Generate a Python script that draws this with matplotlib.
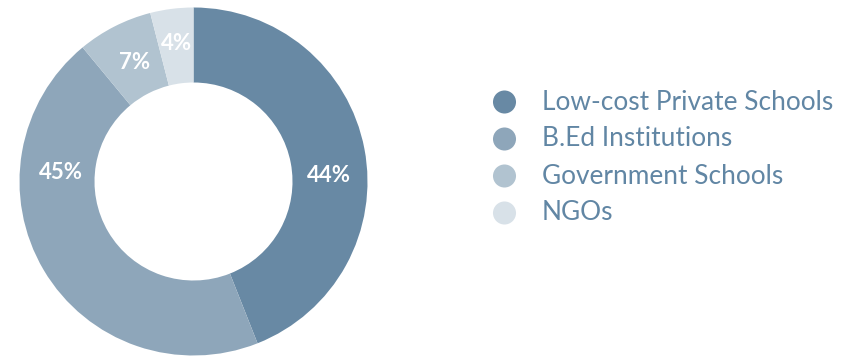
import matplotlib
matplotlib.use("Agg")
import matplotlib.pyplot as plt
import numpy as np

categories = ["Low-cost Private Schools", "B.Ed Institutions", "Government Schools", "NGOs"]
shares = [44, 45, 7, 4]
colors = ["#6889a4", "#8ea6ba", "#b1c3d0", "#d8e1e8"]

# label placement: (angle clockwise from top in degrees, radius as fraction of outer)
label_pos = [(87.3, 0.78), (274.1, 0.763), (333.7, 0.76), (353.0, 0.80)]

plt.rcParams["font.family"] = ["Lato", "DejaVu Sans"]

W, H = 858, 363
fig = plt.figure(figsize=(W / 100, H / 100), dpi=100)

cx, cy, R = 193.5, 181.5, 174.0
ax = fig.add_axes([(cx - R) / W, (H - cy - R) / H, 2 * R / W, 2 * R / H])
ax.pie(shares, colors=colors, startangle=90, counterclock=False, radius=1.0,
       wedgeprops=dict(width=1 - 99 / 174, linewidth=0))
ax.set_xlim(-1, 1)
ax.set_ylim(-1, 1)
ax.set_aspect("auto")
ax.axis("off")

for val, (ang, r) in zip(shares, label_pos):
    t = np.deg2rad(ang)
    ax.text(r * np.sin(t), r * np.cos(t), f"{val}%", color="white",
            fontsize=16, fontweight="bold", ha="center", va="center")

# legend drawn in pixel space
lg = fig.add_axes([0, 0, 1, 1])
lg.set_xlim(0, W)
lg.set_ylim(H, 0)
lg.axis("off")
rows = [102, 139, 176, 213]
for name, col, y in zip(categories, colors, rows):
    lg.scatter([504.5], [y], s=23 ** 2 * 0.52, color=col, edgecolors="none")
    lg.text(542, y, name, color="#6186a4", fontsize=18.9, ha="left", va="center")

fig.savefig("out.png", dpi=100, facecolor="white")
